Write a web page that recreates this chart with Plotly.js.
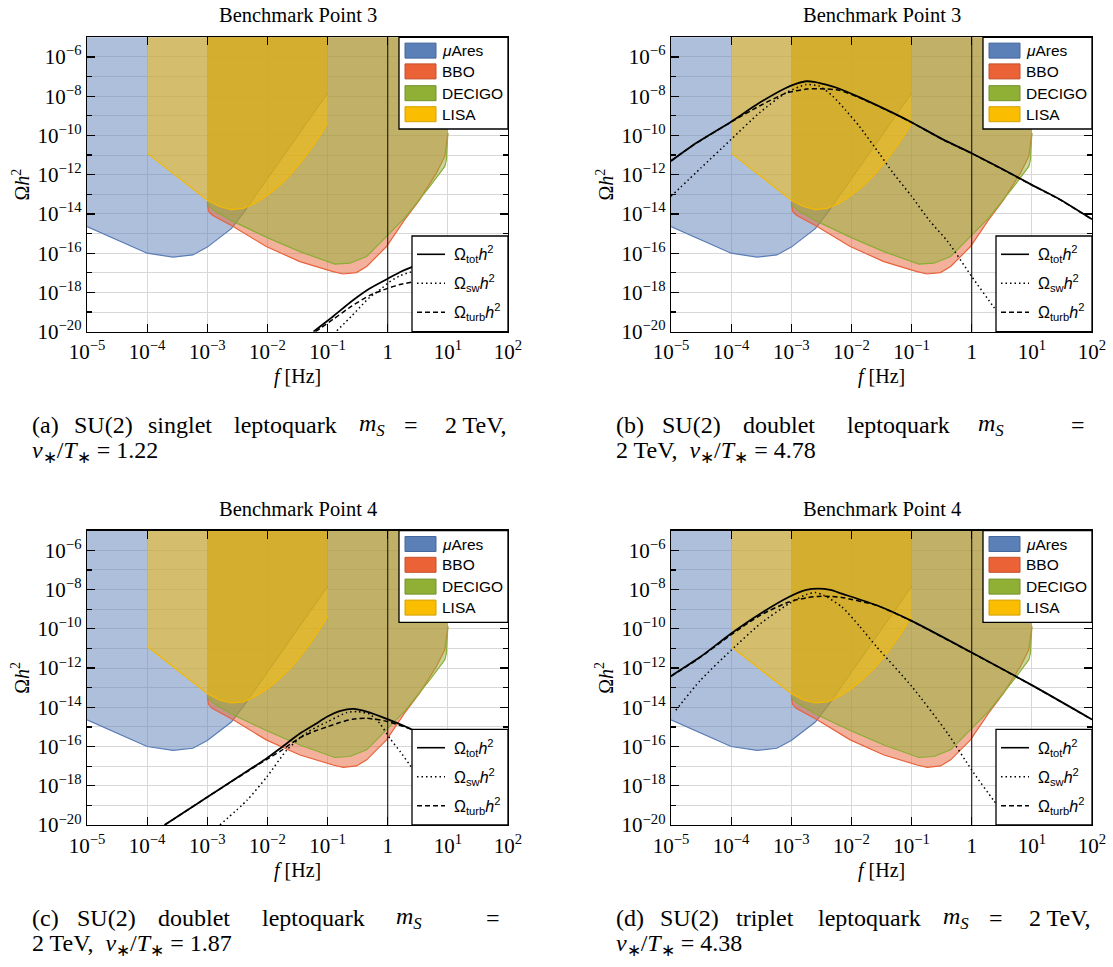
<!DOCTYPE html>
<html><head><meta charset="utf-8">
<script src="https://cdn.plot.ly/plotly-3.0.1.min.js"></script>
<style>body{margin:0;background:#fff}#chart{width:1113px;height:967px}</style>
</head><body><div id="chart"></div>
<script>
// ---------------- data (log10 units) ----------------
const xTickVals = [1e-5,1e-4,1e-3,1e-2,1e-1,1,1e1,1e2];
const xTickText = ['10<sup>−5</sup>','10<sup>−4</sup>','10<sup>−3</sup>','10<sup>−2</sup>','10<sup>−1</sup>','1','10<sup>1</sup>','10<sup>2</sup>'];
const yTickVals = [1e-20,1e-18,1e-16,1e-14,1e-12,1e-10,1e-8,1e-6];
const yTickText = ['10<sup>−20</sup>','10<sup>−18</sup>','10<sup>−16</sup>','10<sup>−14</sup>','10<sup>−12</sup>','10<sup>−10</sup>','10<sup>−8</sup>','10<sup>−6</sup>'];
const yMinorVals = [1e-19,1e-17,1e-15,1e-13,1e-11,1e-9,1e-7];

const detectorNames = ['μAres','BBO','DECIGO','LISA'];
// sensitivity curves (lower boundary of each region)
const muAresLogF = [-5.0,-4.51,-4.0,-3.57,-3.24,-3.0,-2.79,-2.6,-2.4,-2.24,-1.63,-1.0];
const muAresLogO = [-14.64,-15.32,-16.0,-16.2,-16.09,-15.69,-15.18,-14.75,-13.95,-13.25,-10.6,-7.84];
const bboLogF = [-3.0,-2.98,-2.92,-2.84,-2.57,-2.02,-1.46,-0.91,-0.74,-0.52,-0.35,-0.02,0.28,0.53,0.81,0.95,0.975,1.0];
const bboLogO = [-13.4,-13.85,-14.05,-14.18,-14.64,-15.66,-16.43,-16.94,-17.06,-16.99,-16.68,-15.66,-14.3,-13.28,-11.92,-11.07,-10.4,-9.88];
const decigoLogF = [-3.0,-2.96,-2.9,-2.57,-2.02,-1.46,-0.88,-0.63,-0.35,-0.02,0.28,0.70,0.87,0.95,0.976,1.0];
const decigoLogO = [-13.45,-13.62,-13.8,-14.38,-15.18,-15.92,-16.56,-16.51,-16.17,-15.15,-14.21,-12.6,-11.92,-11.58,-11.24,-9.88];
const lisaLogF = [-4.0,-3.5,-3.0,-2.8,-2.6,-2.4,-2.2,-2.0,-1.8,-1.6,-1.4,-1.2,-1.0];
const lisaLogO = [-10.9,-12.1,-13.3,-13.62,-13.78,-13.72,-13.45,-13.05,-12.55,-11.95,-11.2,-10.35,-9.37];

// (a) Benchmark Point 3, singlet
const aTotLogF  = [-1.235,-0.9,-0.6,-0.3,0.0,0.2,0.45];
const aTotLogO  = [-20.0,-19.2,-18.45,-17.8,-17.3,-16.97,-16.65];
const aSwLogF   = [-0.845,-0.6,-0.458,-0.3,-0.097,0.0,0.2,0.45];
const aSwLogO   = [-19.95,-19.2,-18.74,-18.25,-17.79,-17.53,-17.15,-16.9];
const aTurbLogF = [-1.2,-0.9,-0.6,-0.3,0.0,0.2,0.45];
const aTurbLogO = [-20.0,-19.35,-18.7,-18.15,-17.79,-17.6,-17.45];
// (b) Benchmark Point 3, doublet
const bTotLogF  = [-5.0,-4.64,-4.0,-3.53,-3.09,-2.9,-2.75,-2.6,-2.42,-2.2,-1.87,-1.31,-1.0,-0.48,0.0,0.5,1.0,1.46,2.0];
const bTotLogO  = [-11.3,-10.51,-9.3,-8.34,-7.58,-7.35,-7.24,-7.28,-7.41,-7.62,-8.05,-8.85,-9.33,-10.2,-10.91,-11.7,-12.52,-13.25,-14.27];
const bSwLogF   = [-5.0,-4.5,-4.0,-3.53,-3.09,-2.75,-2.53,-2.31,-2.1,-1.87,-1.53,-1.31,-1.0,-0.7,-0.4,0.0,0.36,0.5];
const bSwLogO   = [-13.1,-11.65,-10.2,-8.85,-7.83,-7.41,-7.49,-8.0,-8.7,-9.53,-10.95,-11.9,-13.1,-14.35,-15.4,-17.19,-18.72,-19.3];
const bTurbLogF = [-5.0,-4.64,-4.0,-3.53,-3.09,-2.75,-2.42,-2.2,-1.87,-1.31,-1.0,-0.48,0.0,0.5,1.0,1.46,2.0];
const bTurbLogO = [-11.3,-10.51,-9.32,-8.5,-7.85,-7.64,-7.63,-7.7,-8.07,-8.86,-9.34,-10.21,-10.92,-11.71,-12.53,-13.26,-14.28];
// (c) Benchmark Point 4, doublet
const cTotLogF  = [-3.71,-3.45,-3.01,-2.5,-2.01,-1.79,-1.46,-1.2,-1.01,-0.8,-0.57,-0.35,-0.006,0.37,0.45];
const cTotLogO  = [-20.0,-19.48,-18.6,-17.58,-16.6,-16.1,-15.34,-14.85,-14.48,-14.2,-14.08,-14.22,-14.6,-15.08,-15.2];
const cSwLogF   = [-2.79,-2.34,-2.01,-1.68,-1.35,-1.01,-0.68,-0.5,-0.3,-0.13,0.04,0.21,0.37,0.45];
const cSwLogO   = [-20.0,-18.74,-17.55,-16.19,-15.3,-14.75,-14.27,-14.22,-14.35,-14.83,-15.6,-16.27,-16.95,-17.3];
const cTurbLogF = [-3.71,-3.45,-3.01,-2.5,-2.01,-1.79,-1.46,-1.2,-1.01,-0.8,-0.57,-0.35,-0.006,0.37,0.45];
const cTurbLogO = [-20.0,-19.48,-18.6,-17.6,-16.65,-16.25,-15.55,-15.2,-15.0,-14.78,-14.6,-14.56,-14.72,-15.1,-15.2];
// (d) Benchmark Point 4, triplet
const dTotLogF  = [-5.0,-4.51,-4.0,-3.51,-3.04,-2.75,-2.55,-2.35,-2.16,-1.58,-0.99,0.0,1.0,2.0];
const dTotLogO  = [-12.41,-11.43,-10.24,-9.22,-8.38,-8.02,-7.95,-8.02,-8.21,-8.8,-9.61,-11.21,-12.87,-14.62];
const dSwLogF   = [-4.92,-4.51,-4.0,-3.51,-3.04,-2.75,-2.6,-2.46,-2.16,-1.87,-1.58,-0.99,-0.4,0.0,0.36,0.5];
const dSwLogO   = [-14.15,-12.62,-11.09,-9.73,-8.72,-8.25,-8.15,-8.29,-8.88,-9.85,-10.92,-12.96,-15.33,-17.2,-18.73,-19.3];
const dTurbLogF = [-5.0,-4.51,-4.0,-3.51,-3.04,-2.75,-2.55,-2.35,-2.16,-1.58,-0.99,0.0,1.0,2.0];
const dTurbLogO = [-12.42,-11.45,-10.3,-9.3,-8.63,-8.42,-8.35,-8.35,-8.4,-8.81,-9.62,-11.22,-12.88,-14.63];

const panelTitles = ['Benchmark Point 3','Benchmark Point 3','Benchmark Point 4','Benchmark Point 4'];
const signalNames = ['Ω<sub>tot</sub><i>h</i><sup>2</sup>','Ω<sub>sw</sub><i>h</i><sup>2</sup>','Ω<sub>turb</sub><i>h</i><sup>2</sup>'];

// ---------------- drawing ----------------
const W = 1113, H = 967;
const pan = (x0,x1,y0,y1,tot,sw,turb,title,cap) => ({x0,x1,y0,y1,tot,sw,turb,title,cap});
const MS = '<i>m</i><sub><i>S</i></sub>';
const VT = '<i>v</i><sub>∗</sub>/<i>T</i><sub>∗</sub>';
// caption words: [text, x, anchor]
const captions = [
  {y1:425, y2:452, words:[['(a)',30,'l'],['SU(2)',103,'c'],['singlet',180,'c'],['leptoquark',285,'c'],[MS,372,'c'],['=',411,'c'],['2 TeV,',508,'r']], line2:[VT + ' = 1.22',30]},
  {y1:425, y2:452, words:[['(b)',614,'l'],['SU(2)',691,'c'],['doublet',779,'c'],['leptoquark',898,'c'],[MS,991,'c'],['=',1087,'r']], line2:['2 TeV,&nbsp; ' + VT + ' = 4.78',614]},
  {y1:918, y2:945, words:[['(c)',30,'l'],['SU(2)',106,'c'],['doublet',194,'c'],['leptoquark',313,'c'],[MS,409,'c'],['=',502,'r']], line2:['2 TeV,&nbsp; ' + VT + ' = 1.87',30]},
  {y1:918, y2:945, words:[['(d)',614,'l'],['SU(2)',689,'c'],['triplet',765,'c'],['leptoquark',869,'c'],[MS,956,'c'],['=',996,'c'],['2 TeV,',1092,'r']], line2:[VT + ' = 4.38',614]}
];
const panels = [
  pan(87,508,37.3,331.7,[aTotLogF,aTotLogO],[aSwLogF,aSwLogO],[aTurbLogF,aTurbLogO],panelTitles[0],captions[0]),
  pan(671,1092,37.3,331.7,[bTotLogF,bTotLogO],[bSwLogF,bSwLogO],[bTurbLogF,bTurbLogO],panelTitles[1],captions[1]),
  pan(87,508,530.7,825,[cTotLogF,cTotLogO],[cSwLogF,cSwLogO],[cTurbLogF,cTurbLogO],panelTitles[2],captions[2]),
  pan(671,1092,530.7,825,[dTotLogF,dTotLogO],[dSwLogF,dSwLogO],[dTurbLogF,dTurbLogO],panelTitles[3],captions[3])
];
const detectors = [
  {f:muAresLogF, o:muAresLogO, line:'#5a7db6', fill:'rgba(91,128,184,0.5)', sw:'#5b80b8', swb:'#44679c'},
  {f:bboLogF, o:bboLogO, line:'#e8623a', fill:'rgba(232,100,58,0.5)', sw:'#eb6236', swb:'#c4502b'},
  {f:decigoLogF, o:decigoLogO, line:'#8aad34', fill:'rgba(143,176,51,0.5)', sw:'#8fb034', swb:'#71922a'},
  {f:lisaLogF, o:lisaLogO, line:'#f5b800', fill:'rgba(251,189,0,0.5)', sw:'#fbbd00', swb:'#d4a000'}
];
const p10 = v => Math.pow(10, v);
const TOP = 1e-3;

const traces = [];
const layout = {
  width: W, height: H, margin: {l:0, r:0, t:0, b:0},
  paper_bgcolor: '#fff', plot_bgcolor: '#fff', showlegend: false,
  font: {family: 'Liberation Serif, serif', color: '#000'},
  shapes: [], annotations: []
};
const serif = 'Liberation Serif, Times New Roman, serif';
const sans = 'Liberation Sans, Arial, sans-serif';

panels.forEach((P, i) => {
  const n = i === 0 ? '' : String(i + 1);
  const xa = 'x' + n, ya = 'y' + n;
  const axisCommon = {
    type: 'log', showline: true, linecolor: '#000', linewidth: 1.3, mirror: 'ticks',
    ticks: 'inside', ticklen: 8, tickwidth: 1.2, tickcolor: '#000',
    showgrid: true, gridcolor: '#d8d8d8', gridwidth: 1, zeroline: false,
    tickfont: {family: serif, size: 21, color: '#000'}, tickmode: 'array', fixedrange: true
  };
  layout['xaxis' + n] = Object.assign({}, axisCommon, {
    domain: [P.x0 / W, P.x1 / W], anchor: ya, range: [-5, 2],
    tickvals: xTickVals, ticktext: xTickText, ticklabelstandoff: 1
  });
  layout['yaxis' + n] = Object.assign({}, axisCommon, {
    domain: [1 - P.y1 / H, 1 - P.y0 / H], anchor: xa, range: [-20, -5],
    tickvals: yTickVals, ticktext: yTickText, ticklabelstandoff: 0,
    minor: {tickmode: 'array', tickvals: yMinorVals, ticks: 'inside', ticklen: 5, tickwidth: 1.2, tickcolor: '#000', showgrid: true, gridcolor: '#d8d8d8', gridwidth: 1}
  });

  // detector regions
  detectors.forEach(D => {
    const xs = [p10(D.f[0])].concat(D.f.map(p10), [p10(D.f[D.f.length - 1])]);
    const ys = [TOP].concat(D.o.map(p10), [TOP]);
    traces.push({type: 'scatter', mode: 'lines', x: xs, y: ys, xaxis: xa, yaxis: ya, fill: 'toself',
      fillcolor: D.fill, line: {width: 0, color: 'rgba(0,0,0,0)'}, hoverinfo: 'skip'});
    traces.push({type: 'scatter', mode: 'lines', x: D.f.map(p10), y: D.o.map(p10), xaxis: xa, yaxis: ya,
      line: {color: D.line, width: 1.2}, hoverinfo: 'skip'});
  });
  // 1 Hz line
  traces.push({type: 'scatter', mode: 'lines', x: [1, 1], y: [1e-21, TOP], xaxis: xa, yaxis: ya,
    line: {color: '#1a1a1a', width: 1.1}, hoverinfo: 'skip'});
  // signals
  traces.push({type: 'scatter', mode: 'lines', x: P.sw[0].map(p10), y: P.sw[1].map(p10), xaxis: xa, yaxis: ya,
    line: {color: '#000', width: 1.5, dash: '1.5px,3px', shape: 'spline', smoothing: 0.6}});
  traces.push({type: 'scatter', mode: 'lines', x: P.turb[0].map(p10), y: P.turb[1].map(p10), xaxis: xa, yaxis: ya,
    line: {color: '#000', width: 1.5, dash: '5px,3px', shape: 'spline', smoothing: 0.6}});
  traces.push({type: 'scatter', mode: 'lines', x: P.tot[0].map(p10), y: P.tot[1].map(p10), xaxis: xa, yaxis: ya,
    line: {color: '#000', width: 1.8, shape: 'spline', smoothing: 0.6}});

  const xd = xa + ' domain', yd = ya + ' domain';
  const ph = P.y1 - P.y0, pw = P.x1 - P.x0;
  const dx = px => (px - P.x0) / pw;
  const dy = py => 1 - (py) / ph;
  // detector legend box
  layout.shapes.push({type: 'rect', xref: xd, yref: yd, x0: dx(P.x0 + 312), x1: 1, y0: dy(91.7), y1: 1,
    fillcolor: '#fff', line: {color: '#000', width: 1.3}, layer: 'above'});
  const rowY = [13.3, 34.1, 55.9, 76.9];
  detectors.forEach((D, k) => {
    layout.shapes.push({type: 'rect', xref: xd, yref: yd, x0: dx(P.x0 + 318), x1: dx(P.x0 + 349),
      y0: dy(rowY[k] + 7.5), y1: dy(rowY[k] - 7.5), fillcolor: D.sw, line: {color: D.swb, width: 1}, layer: 'above'});
    layout.annotations.push({xref: xd, yref: yd, x: dx(P.x0 + 353), y: dy(rowY[k]), xanchor: 'left', yanchor: 'middle',
      text: k === 0 ? '<i>μ</i>Ares' : detectorNames[k], showarrow: false, font: {family: sans, size: 15.5, color: '#000'}});
  });
  // signal legend box
  layout.shapes.push({type: 'rect', xref: xd, yref: yd, x0: dx(P.x0 + 325), x1: 1, y0: 0, y1: dy(198.7),
    fillcolor: '#fff', line: {color: '#000', width: 1.3}, layer: 'above'});
  const lrowY = [217, 246, 275];
  const dashes = ['solid', '1.5px,3px', '5px,3px'];
  for (let k = 0; k < 3; k++) {
    layout.shapes.push({type: 'line', xref: xd, yref: yd, x0: dx(P.x0 + 330), x1: dx(P.x0 + 358),
      y0: dy(lrowY[k]), y1: dy(lrowY[k]), line: {color: '#000', width: k === 0 ? 1.6 : 1.4, dash: dashes[k]}, layer: 'above'});
    layout.annotations.push({xref: xd, yref: yd, x: dx(P.x0 + 365), y: dy(lrowY[k]), xanchor: 'left', yanchor: 'middle',
      text: signalNames[k], showarrow: false, font: {family: sans, size: 16, color: '#000'}});
  }
  // titles
  const cx = (P.x0 + P.x1) / 2;
  layout.annotations.push({xref: 'paper', yref: 'paper', x: cx / W, y: 1 - (P.y0 - 22) / H, xanchor: 'center', yanchor: 'middle',
    text: P.title, showarrow: false, font: {family: serif, size: 20.5, color: '#000'}});
  layout.annotations.push({xref: 'paper', yref: 'paper', x: cx / W, y: 1 - (P.y1 + 45) / H, xanchor: 'center', yanchor: 'middle',
    text: '<i>f</i> [Hz]', showarrow: false, font: {family: serif, size: 20, color: '#000'}});
  layout.annotations.push({xref: 'paper', yref: 'paper', x: (P.x0 - 67) / W, y: 1 - ((P.y0 + P.y1) / 2) / H, xanchor: 'center', yanchor: 'middle',
    textangle: -90, text: 'Ω<i>h</i><sup>2</sup>', showarrow: false, font: {family: serif, size: 20, color: '#000'}});
  // caption
  const C = P.cap;
  C.words.forEach(w => {
    layout.annotations.push({xref: 'paper', yref: 'paper', x: w[1] / W, y: 1 - C.y1 / H,
      xanchor: w[2] === 'r' ? 'right' : (w[2] === 'c' ? 'center' : 'left'), yanchor: 'middle',
      text: w[0], showarrow: false, font: {family: serif, size: 24, color: '#000'}});
  });
  layout.annotations.push({xref: 'paper', yref: 'paper', x: C.line2[1] / W, y: 1 - C.y2 / H, xanchor: 'left', yanchor: 'middle',
    text: C.line2[0], showarrow: false, font: {family: serif, size: 24, color: '#000'}});
});

Plotly.newPlot('chart', traces, layout, {staticPlot: true, displayModeBar: false});
</script>
</body></html>
